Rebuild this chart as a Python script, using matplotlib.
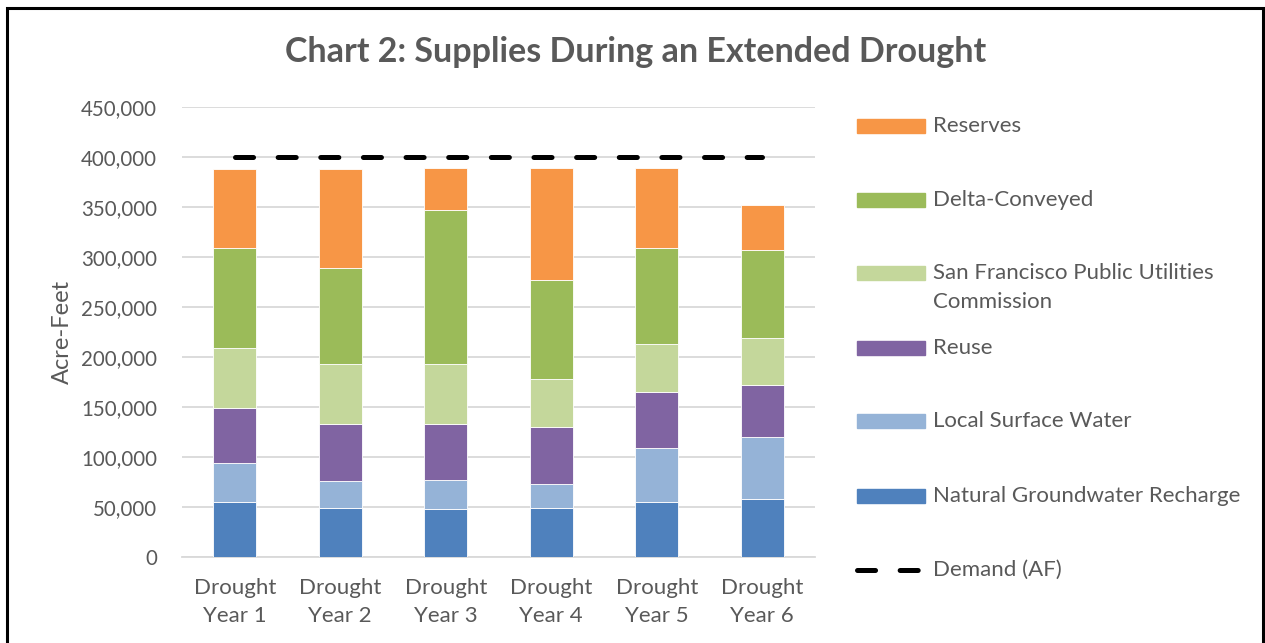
import matplotlib.pyplot as plt
from matplotlib.patches import Rectangle
import numpy as np

plt.rcParams['font.family'] = ['Lato', 'DejaVu Sans']
plt.rcParams['lines.scale_dashes'] = False

years = ["Drought\nYear 1", "Drought\nYear 2", "Drought\nYear 3",
         "Drought\nYear 4", "Drought\nYear 5", "Drought\nYear 6"]

groundwater = [55000, 49000, 48000, 49000, 55000, 58000]
surface_water = [39000, 27000, 29000, 24000, 54000, 62000]
reuse = [55000, 57000, 56000, 57000, 56000, 52000]
sfpuc = [60000, 60000, 60000, 48000, 48000, 47000]
delta = [100000, 96000, 154000, 99000, 96000, 88000]
reserves = [79000, 99000, 42000, 112000, 80000, 45000]
demand = [400000, 400000, 400000, 400000, 400000, 400000]

series = [
    ("Natural Groundwater Recharge", groundwater, "#4F81BD"),
    ("Local Surface Water", surface_water, "#95B3D7"),
    ("Reuse", reuse, "#8064A2"),
    ("San Francisco Public Utilities\nCommission", sfpuc, "#C4D79B"),
    ("Delta-Conveyed", delta, "#9BBB59"),
    ("Reserves", reserves, "#F79646"),
]

grey = "#595959"
W, H = 1265, 643
fs = 16

fig = plt.figure(figsize=(12.65, 6.43), dpi=100)
ax = fig.add_axes([182 / W, 1 - 557 / H, 633 / W, 450 / H])

x = np.arange(len(years))
bottom = np.zeros(len(years))
for name, vals, col in series:
    ax.bar(x, vals, width=0.41, bottom=bottom, color=col,
           edgecolor="white", linewidth=0.6, zorder=3)
    bottom += np.array(vals)

ax.plot(x, demand, color="black", linewidth=3.6, dashes=(13, 17.7),
        dash_capstyle="round", zorder=4)

ax.set_xlim(-0.5, 5.5)
ax.set_ylim(0, 450000)
ax.set_yticks(np.arange(0, 450001, 50000))
ax.set_yticklabels([f"{v:,}" for v in range(0, 450001, 50000)])
ax.set_xticks(x)
ax.set_xticklabels(years, linespacing=1.5)
ax.tick_params(length=0, colors=grey)
ax.tick_params(axis="y", pad=18, labelsize=14.8)
ax.tick_params(axis="x", pad=15, labelsize=fs)
ax.grid(axis="y", color="#D9D9D9", linewidth=1.3, zorder=0)
for s in ["top", "right", "left"]:
    ax.spines[s].set_visible(False)
ax.spines["bottom"].set_color("#D9D9D9")
ax.spines["bottom"].set_linewidth(1.3)

ax.set_ylabel("Acre-Feet", fontsize=17, color=grey, labelpad=6)

fig.text(636 / W, 1 - 52 / H, "Chart 2: Supplies During an Extended Drought",
         ha="center", va="center", fontsize=24.5, fontweight="bold", color=grey)

# legend drawn by hand, top to bottom
legend_rows = [
    ("Reserves", "#F79646", 126),
    ("Delta-Conveyed", "#9BBB59", 200),
    ("San Francisco Public Utilities", "#C4D79B", 273),
    ("Reuse", "#8064A2", 348),
    ("Local Surface Water", "#95B3D7", 421),
    ("Natural Groundwater Recharge", "#4F81BD", 496),
]
for label, col, yp in legend_rows:
    fig.patches.append(Rectangle((857 / W, 1 - (yp + 7) / H), 68 / W, 14 / H,
                                 transform=fig.transFigure, color=col))
    fig.text(933 / W, 1 - yp / H, label, ha="left", va="center",
             fontsize=fs, color=grey)
fig.text(933 / W, 1 - 302 / H, "Commission", ha="left", va="center",
         fontsize=fs, color=grey)
fig.lines.append(plt.Line2D([857 / W, 925 / W], [1 - 570 / H, 1 - 570 / H],
                            transform=fig.transFigure, color="black",
                            linewidth=3.6, dashes=(13, 17.7),
                            dash_capstyle="round"))
fig.text(933 / W, 1 - 570 / H, "Demand (AF)", ha="left", va="center",
         fontsize=fs, color=grey)

# outer frame
fig.patches.append(Rectangle((7 / W, -0.05), 1256 / W, 1.05 - 8 / H,
                             transform=fig.transFigure, fill=False,
                             edgecolor="black", linewidth=2.2))

fig.savefig("out.png", dpi=100)
